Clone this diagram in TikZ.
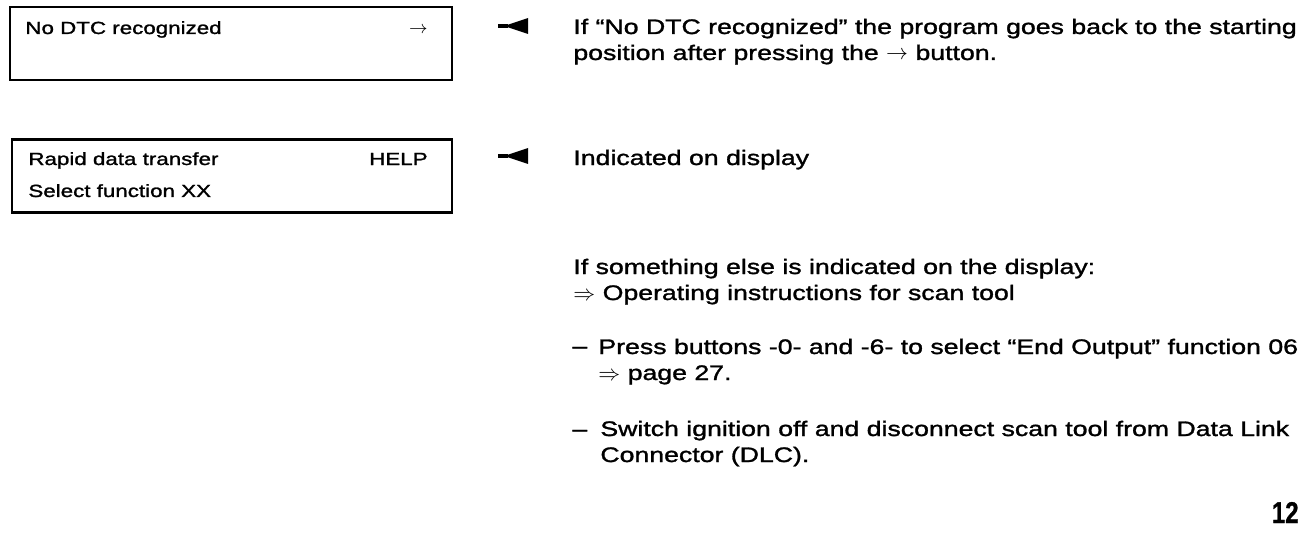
\documentclass[tikz,border=0pt]{standalone}
\usepackage{fontspec}
\setmainfont[FakeStretch=1.27,FakeBold=1.4]{Liberation Sans}
\newfontfamily\pagenumfont[FakeStretch=0.8,FakeBold=1]{Liberation Sans}

\begin{document}
\begin{tikzpicture}[x=0.5pt,y=-0.5pt]
\tikzstyle{display}=[draw,rectangle,line width=1.1pt,minimum width=221pt,minimum height=36.5pt,inner sep=0pt]
\tikzstyle{boxtext}=[anchor=base west,align=left,inner sep=0pt,font=\fontsize{8.8}{16}\selectfont]
\tikzstyle{note}=[anchor=base west,align=left,inner sep=0pt,font=\fontsize{10.5}{13}\selectfont]
\tikzset{pointer/.pic={\fill (-6,-2) rectangle (4,2); \fill (0,0) -- (24,-8) -- (24,8) -- cycle;}}
\useasboundingbox (0,0) rectangle (1312,540);
\node[display] (disp1) at (231,43.5) {};
\node[boxtext] (msg1) at (25,34) {No DTC recognized};
\node[boxtext,anchor=base east] (key1) at (428,34) {$\rightarrow$};
\node[display,minimum width=220pt] (disp2) at (232,176) {};
\node[boxtext] (msg2) at (28,197) {Rapid data transfer\\Select function XX};
\node[boxtext,anchor=base east] (key2) at (428,165) {HELP};
\pic (mark1) at (504,26) {pointer};
\pic (mark2) at (504,156) {pointer};
\node[note] (note1) at (573,60) {If “No DTC recognized” the program goes back to the starting\\position after pressing the $\rightarrow$ button.};
\node[note] (note2) at (573,165) {Indicated on display};
\node[note] (note3) at (573,300) {If something else is indicated on the display:\\$\Rightarrow$ Operating instructions for scan tool};
\node[note] (dash1) at (572,353) {–};
\node[note] (step1) at (598,380) {Press buttons -0- and -6- to select “End Output” function 06\\$\Rightarrow$ page 27.};
\node[note] (dash2) at (572,436) {–};
\node[note] (step2) at (600,462) {Switch ignition off and disconnect scan tool from Data Link\\Connector (DLC).};
\node[anchor=base east,inner sep=0pt,font=\pagenumfont\bfseries\fontsize{15}{17}\selectfont] (pageno) at (1299,523) {12};
\end{tikzpicture}
\end{document}
